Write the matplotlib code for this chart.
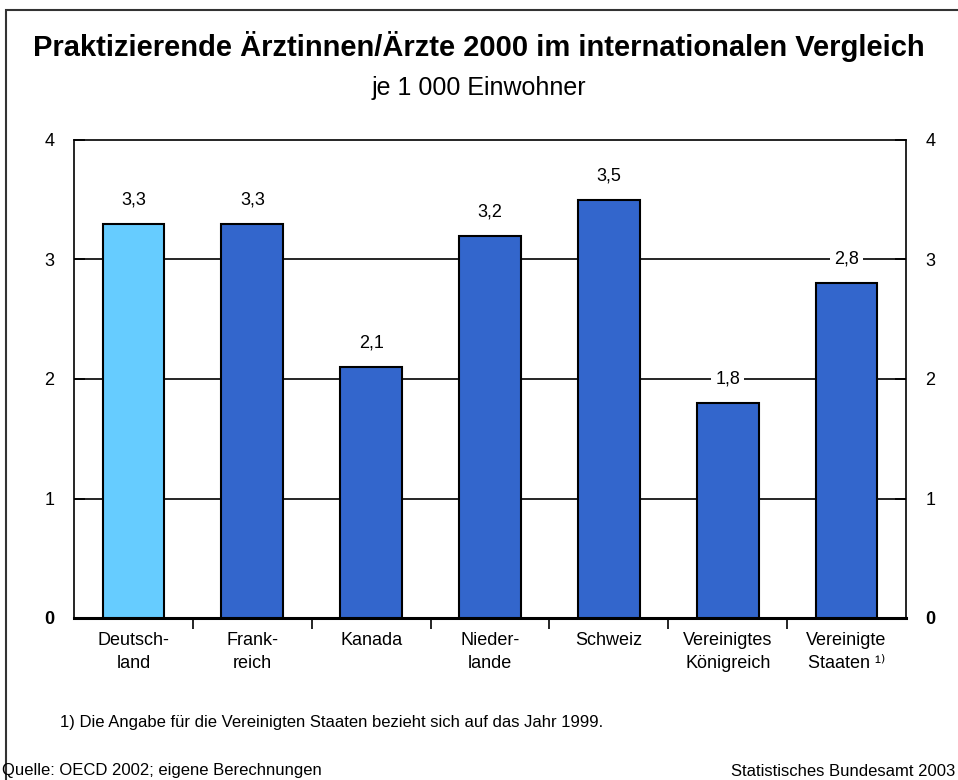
import matplotlib.pyplot as plt
from matplotlib.patches import Rectangle

# data
countries = ["Deutsch-\nland", "Frank-\nreich", "Kanada", "Nieder-\nlande", "Schweiz",
             "Vereinigtes\nKönigreich", "Vereinigte\nStaaten \u00b9\u207e"]
values = [3.3, 3.3, 2.1, 3.2, 3.5, 1.8, 2.8]
value_labels = ["3,3", "3,3", "2,1", "3,2", "3,5", "1,8", "2,8"]
bar_colors = ["#66CCFF", "#3366CC", "#3366CC", "#3366CC", "#3366CC", "#3366CC", "#3366CC"]
yticks = [0, 1, 2, 3, 4]

plt.rcParams['font.family'] = ['Liberation Sans', 'DejaVu Sans']

fig = plt.figure(figsize=(9.58, 7.8), dpi=100)
ax = fig.add_axes([74/958, 1-618/780, (906-74)/958, (618-140)/780])

x = range(len(values))
ax.bar(x, values, width=0.52, color=bar_colors, edgecolor="black", linewidth=1.5, zorder=3)
for xi, v, lab in zip(x, values, value_labels):
    ax.text(xi, v + 0.2, lab, ha="center", va="center", fontsize=13, zorder=4,
            bbox=dict(facecolor="white", edgecolor="none", pad=3))

# grid lines at 1..3
for g in [1, 2, 3]:
    ax.axhline(g, color="black", linewidth=1.2, zorder=1)

ax.set_xlim(-0.5, len(values) - 0.5)
ax.set_ylim(0, 4)
ax.set_yticks(yticks)
ax.set_yticklabels([str(t) for t in yticks], fontsize=13)
ax.tick_params(axis="y", direction="in", length=8, width=1.2, right=True, labelright=True, pad=14)
for tick in ax.yaxis.get_major_ticks():
    if tick.get_loc() == 0:
        tick.label1.set_fontweight("bold")
        tick.label2.set_fontweight("bold")

# category boundaries as ticks, names as minor labels
ax.set_xticks([i + 0.5 for i in range(len(values) - 1)])
ax.set_xticklabels([])
ax.set_xticks(list(x), minor=True)
ax.set_xticklabels(countries, minor=True, fontsize=13, linespacing=1.5)
ax.tick_params(axis="x", which="major", direction="out", length=8, width=1.2)
ax.tick_params(axis="x", which="minor", length=0, pad=10)

for s in ["left", "right", "top"]:
    ax.spines[s].set_linewidth(1.2)
ax.spines["bottom"].set_linewidth(2.2)

# frame around whole picture
fig.patches.append(Rectangle((6/958, -0.1), 1.2, 1 - 10/780 + 0.1, transform=fig.transFigure,
                             fill=False, edgecolor="#333333", linewidth=1.5))

fig.text(0.5, 1 - 47/780, "Praktizierende Ärztinnen/Ärzte 2000 im internationalen Vergleich",
         ha="center", va="center", fontsize=21, fontweight="bold")
fig.text(0.5, 1 - 88/780, "je 1 000 Einwohner", ha="center", va="center", fontsize=18)
fig.text(60/958, 1 - 722/780, "1) Die Angabe für die Vereinigten Staaten bezieht sich auf das Jahr 1999.",
         ha="left", va="center", fontsize=12)
fig.text(2/958, 1 - 771/780, "Quelle: OECD 2002; eigene Berechnungen", ha="left", va="center", fontsize=12)
fig.text(955/958, 1 - 771/780, "Statistisches Bundesamt 2003", ha="right", va="center", fontsize=12)

fig.savefig("out.png", dpi=100)
